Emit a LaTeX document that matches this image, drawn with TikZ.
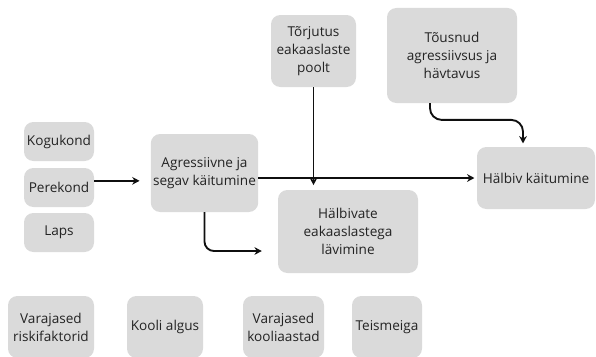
\documentclass[tikz,border=0pt]{standalone}
\usepackage{fontspec}
\setmainfont{Open Sans}
\usepackage{xcolor}
\usepackage{tikz}
\usetikzlibrary{arrows.meta,positioning}
\definecolor{boxgray}{RGB}{218,218,218}
\definecolor{textgray}{RGB}{35,35,35}
\definecolor{linegray}{RGB}{15,15,15}

\begin{document}
\begin{tikzpicture}[
    box/.style={rectangle,rounded corners=8pt,fill=boxgray,text=textgray,align=center,inner sep=2pt,font=\fontsize{11.6}{15.4}\selectfont},
    arrow/.style={-{Stealth[length=2.2mm,width=2.3mm]},line width=1.6pt,draw=linegray}
  ]
    \clip (0,0) rectangle (17.88,-10.68);
    % factors
    \node[box,minimum width=2.1cm,minimum height=1.17cm] (kogukond) at (1.77,-4.245) {Kogukond};
    \node[box,minimum width=2.1cm,minimum height=1.17cm] (perekond) at (1.77,-5.625) {Perekond};
    \node[box,minimum width=2.1cm,minimum height=1.17cm] (laps) at (1.77,-6.975) {Laps};
    % pathway
    \node[box,minimum width=3.21cm,minimum height=2.34cm] (agressiivne) at (6.135,-5.19) {Agressiivne ja\\segav käitumine};
    \node[box,minimum width=2.55cm,minimum height=2.16cm] (torjutus) at (9.405,-1.53) {Tõrjutus\\eakaaslaste\\poolt};
    \node[box,minimum width=3.9cm,minimum height=2.85cm] (tousnud) at (13.56,-1.665) {Tõusnud\\agressiivsus ja\\hävtavus};
    \node[box,minimum width=3.54cm,minimum height=1.86cm] (halbiv) at (16.08,-5.34) {Hälbiv käitumine};
    \node[box,minimum width=4.2cm,minimum height=2.49cm] (halbivate) at (10.44,-6.945) {Hälbivate\\eakaaslastega\\lävimine};
    % stages
    \node[box,minimum width=2.58cm,minimum height=1.86cm] (riskifaktorid) at (1.53,-9.81) {Varajased\\riskifaktorid};
    \node[box,minimum width=2.28cm,minimum height=1.86cm] (kooli) at (4.95,-9.81) {Kooli algus};
    \node[box,minimum width=2.43cm,minimum height=1.86cm] (kooliaastad) at (8.505,-9.81) {Varajased\\kooliaastad};
    \node[box,minimum width=2.1cm,minimum height=1.86cm] (teismeiga) at (11.61,-9.81) {Teismeiga};
    % connectors
    \draw[arrow,shorten >=0.33cm] ([yshift=0.2cm]perekond.east) -- ([yshift=0.2cm]perekond.east -| agressiivne.west);
    \draw[arrow,shorten >=2pt] (agressiivne.east |- halbiv.west) -- (halbiv.west);
    \draw[arrow,shorten >=0.14cm] (torjutus.south) -- (torjutus.south |- halbivate.north);
    \draw[arrow,rounded corners=8pt,shorten >=0.48cm] (agressiivne.south) |- ([yshift=-0.585cm]halbivate.west);
    \draw[arrow,rounded corners=10pt,shorten >=0.1cm] ([xshift=-0.66cm]tousnud.south) -- ++(0,-0.5) -| ([xshift=-0.39cm]halbiv.north);
\end{tikzpicture}
\end{document}
